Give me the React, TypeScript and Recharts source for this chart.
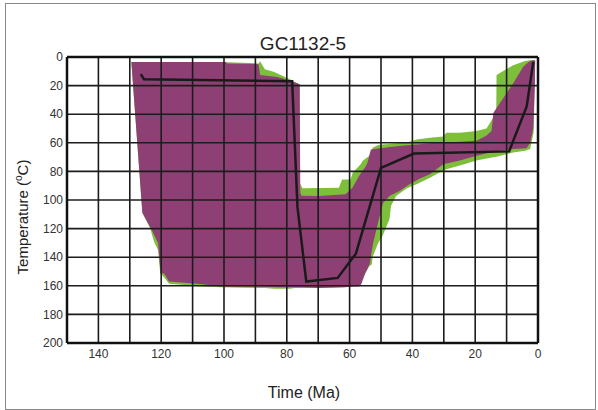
import { Area, ComposedChart, Line, ReferenceLine, XAxis, YAxis } from 'recharts';

// Time axis (Ma) runs right-to-left, temperature (°C) runs top-to-bottom
const ageTicks = [140, 120, 100, 80, 60, 40, 20, 0];
const tempTicks = [0, 20, 40, 60, 80, 100, 120, 140, 160, 180, 200];
const ageGrid = [10, 20, 30, 40, 50, 60, 70, 80, 90, 100, 110, 120, 130, 140];
const tempGrid = [20, 40, 60, 80, 100, 120, 140, 160, 180];

// acceptable-fit envelope (green)
const accAge = [
  129.5, 126, 123.5, 122.3, 121, 120.3, 119.5, 117.5, 107, 101, 89, 88.5, 87, 84, 79, 77.5, 75.9, 75.8, 75,
  63.4, 62.4, 59.7, 59, 56.5, 55.9, 53.8, 52.9, 52.7, 50.9, 49.6, 48.5, 47.3, 46.8, 45.2, 41.9, 38.7, 34.4,
  30.2, 29.2, 24.9, 19.6, 16.4, 13.3, 13.2, 7.9, 4.1, 2.5, 1.4, 0.9,
];
const accTop = [
  3.5, 3.5, 3.5, 3.5, 3.5, 3.5, 3.5, 3.5, 3.5, 3.5, 4.5, 3, 8.5, 10.5, 15.5, 17.5, 19, 88.5, 91.7,
  91.4, 85.6, 85.6, 81, 75, 72.8, 69.3, 66, 63.5, 61.5, 61.2, 61, 60.8, 60.6, 60.4, 60, 57.7, 56.5,
  55.6, 52.9, 52.9, 51.7, 50, 39, 12.6, 5.7, 2.8, 2.3, 2.3, 2.5,
];
const accBase = [
  3.5, 109, 120, 129, 135, 151.5, 153, 158.5, 160.5, 161, 161.5, 161.5, 161.5, 162, 162, 161.5, 161.5, 161.5, 161.5,
  161, 161, 160.5, 160.5, 159, 155, 146.5, 145, 140, 130, 125.6, 119.8, 113.5, 104, 97.2, 92, 89, 84.4,
  79.3, 78.5, 75.9, 72.4, 71, 69.8, 69.7, 66.7, 65.5, 64.4, 53, 3,
];

// good-fit envelope (purple)
const goodAge = [
  129.5, 126, 123, 121, 120.2, 119, 117.5, 107, 101, 99.5, 99, 89, 88.5, 83, 79, 76.5, 75.9, 75.7, 75.3,
  69.9, 61.3, 59.1, 57, 56.3, 55, 54.3, 53.5, 53.2, 52.5, 50.5, 49.3, 47.2, 44.1, 40.9, 37.6, 34.4, 30.2,
  24.9, 19.6, 16.5, 14.8, 14.2, 7.9, 4.7, 3.6, 2.5, 1.5, 1, 0.9,
];
const goodTop = [
  3.5, 3.5, 3.5, 3.5, 3.5, 3.5, 3.5, 3.5, 3.5, 3.5, 4.5, 5, 12.5, 14, 16.5, 18.5, 19, 95, 97,
  97.2, 96, 91.4, 83.3, 81, 77, 74, 67, 64.7, 64.5, 63.8, 63.6, 63, 62.3, 61.6, 61, 60.3, 59.8,
  59.3, 58.5, 55, 51.7, 39, 18.4, 6.9, 4.5, 2.8, 2.3, 2.3, 2.5,
];
const goodBase = [
  3.5, 109, 121, 130, 151, 151.5, 157, 159, 160.5, 160.5, 160.5, 160.5, 160.5, 161, 161, 161, 161, 161, 161,
  161.5, 161, 160.5, 160.5, 159, 151, 148, 144, 139, 130, 112, 102, 97, 93.7, 89, 85, 82, 75,
  72.4, 69, 67.5, 66.8, 66.6, 64.4, 64, 63.7, 60, 50, 20, 3,
];

// best-fit path
const fitAge = [126.5, 125.5, 78.3, 76.6, 73.8, 63.8, 58, 50, 39.5, 9.2, 3.6, 1.5];
const fitTemp = [12, 15.5, 17, 105, 157, 154.5, 137.5, 77.5, 67.5, 66, 34.5, 3.4];

const accRows = accAge.map((age, i) => ({ age, range: [accTop[i], accBase[i]] }));
const goodRows = goodAge.map((age, i) => ({ age, range: [goodTop[i], goodBase[i]] }));
const fitRows = fitAge.map((age, i) => ({ age, temp: fitTemp[i] }));

const FONT = '"Liberation Sans", Arial, Helvetica, sans-serif';
const tick = { fontSize: 12, fill: '#333', fontFamily: FONT };
const GRID = '#1c1c1c';

export default function App() {
  return (
    <div
      style={{
        position: 'absolute',
        left: 0,
        top: 0,
        width: 598,
        height: 410,
        background: '#fff',
        fontFamily: FONT,
      }}
    >
      <div
        style={{
          position: 'absolute',
          left: 5,
          top: 3,
          width: 589,
          height: 405,
          border: '1px solid #8a8a8a',
        }}
      />
      <ComposedChart
        width={598}
        height={410}
        margin={{ top: 57, right: 60, bottom: 37, left: 7 }}
        style={{ position: 'absolute', left: 0, top: 0 }}
      >
        <XAxis
          dataKey="age"
          type="number"
          domain={[0, 150]}
          reversed
          ticks={ageTicks}
          interval={0}
          axisLine={false}
          tickLine={false}
          tickSize={0}
          tickMargin={6}
          height={30}
          tick={tick}
        />
        <YAxis
          type="number"
          domain={[0, 200]}
          reversed
          ticks={tempTicks}
          interval={0}
          axisLine={false}
          tickLine={false}
          tickSize={0}
          tickMargin={4}
          width={60}
          tick={tick}
        />
        <Area
          data={accRows}
          dataKey="range"
          type="linear"
          stroke="none"
          fill="#7dbf3b"
          fillOpacity={1}
          isAnimationActive={false}
          activeDot={false}
        />
        <Area
          data={goodRows}
          dataKey="range"
          type="linear"
          stroke="none"
          fill="#8e4075"
          fillOpacity={1}
          isAnimationActive={false}
          activeDot={false}
        />
        {ageGrid.map((a) => (
          <ReferenceLine key={`v${a}`} x={a} stroke={GRID} strokeWidth={1.6} />
        ))}
        {tempGrid.map((t) => (
          <ReferenceLine key={`h${t}`} y={t} stroke={GRID} strokeWidth={1.6} />
        ))}
        <ReferenceLine x={150} stroke="#111" strokeWidth={2.5} />
        <ReferenceLine x={0} stroke="#111" strokeWidth={2.5} />
        <ReferenceLine y={0} stroke="#111" strokeWidth={2.5} />
        <ReferenceLine y={200} stroke="#111" strokeWidth={2.5} />
        <Line
          data={fitRows}
          dataKey="temp"
          type="linear"
          stroke="#1a1a1a"
          strokeWidth={2.5}
          dot={false}
          activeDot={false}
          isAnimationActive={false}
        />
      </ComposedChart>
      <svg
        width={598}
        height={410}
        style={{ position: 'absolute', left: 0, top: 0, pointerEvents: 'none' }}
      >
        <text x={303} y={50} textAnchor="middle" fontSize={19} fill="#222" fontFamily={FONT}>
          GC1132-5
        </text>
        <text
          transform="translate(28 217) rotate(-90)"
          textAnchor="middle"
          fontSize={15}
          fill="#222"
          fontFamily={FONT}
        >
          Temperature (
          <tspan fontSize={10} dy={-6}>
            o
          </tspan>
          <tspan dy={6}>C)</tspan>
        </text>
        <text x={304} y={398} textAnchor="middle" fontSize={16} fill="#222" fontFamily={FONT}>
          Time (Ma)
        </text>
      </svg>
    </div>
  );
}
